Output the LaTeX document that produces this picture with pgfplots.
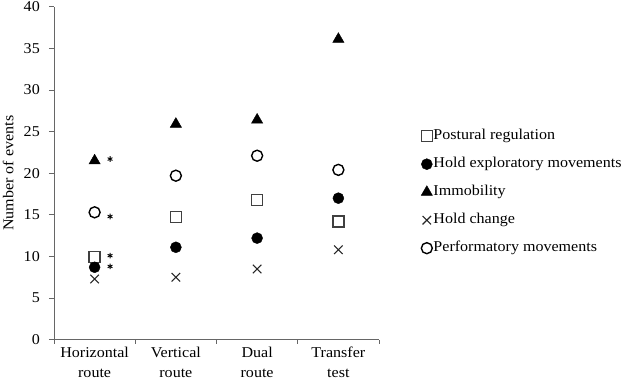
\documentclass[border=0pt]{standalone}
\usepackage{fontspec}
\setmainfont{Liberation Serif}[FakeStretch=1.07]
\usepackage{pgfplots}
\pgfplotsset{compat=1.18}
\begin{document}
\fontsize{15pt}{18pt}\selectfont
\begin{tikzpicture}
\begin{axis}[
  name=ax,
  scale only axis, width=325pt, height=333pt,
  xmin=-0.5, xmax=3.5, ymin=0, ymax=40,
  axis x line*=bottom, axis y line*=left,
  axis line style={draw=gray!80!black, line width=0.8pt},
  /pgf/number format/assume math mode=true,
  xtick={0,1,2,3},
  xticklabels={Horizontal\\route, Vertical\\route, Dual\\route, Transfer\\test},
  xticklabel style={align=center, font=\fontsize{15pt}{20pt}\selectfont, yshift=3pt},
  yticklabel style={xshift=-4pt},
  major x tick style={draw=none},
  minor xtick={-0.5,0.5,1.5,2.5,3.5},
  minor x tick style={draw=gray!80!black, line width=0.8pt},
  minor tick length=4pt,
  ytick={0,5,...,40},
  major y tick style={draw=gray!80!black, line width=0.8pt},
  major tick length=5pt,
  tick align=outside,
  ylabel={Number of events},
  legend style={draw=none, fill=none, at={(1.12,0.443)}, anchor=west,
    nodes={inner sep=1pt, text height=10pt, text depth=3pt, font=\fontsize{15pt}{18pt}\selectfont},
    row sep=13pt},
  legend cell align=left,
  legend image code/.code={\draw[#1] plot coordinates {(0pt,0pt)};},
]
\addplot[only marks, mark=square, mark size=5.5pt, mark options={draw=black!75, line width=1.3pt, fill=white}]
  coordinates {(0,9.9) (1,14.7) (2,16.8) (3,14.2)};
\addlegendentry{Postural regulation}
\addplot[only marks, mark=*, mark size=5.5pt, mark options={draw=black, fill=black}]
  coordinates {(0,8.7) (1,11.1) (2,12.2) (3,17.0)};
\addlegendentry{Hold exploratory movements}
\addplot[only marks, mark=triangle*, mark size=6.5pt, mark options={draw=black, fill=black}]
  coordinates {(0,21.5) (1,25.9) (2,26.4) (3,36.1)};
\addlegendentry{Immobility}
\addplot[only marks, mark=x, mark size=6pt, mark options={draw=black!85, line width=1.1pt}]
  coordinates {(0,7.3) (1,7.5) (2,8.5) (3,10.8)};
\addlegendentry{Hold change}
\addplot[only marks, mark=o, mark size=5.5pt, mark options={draw=black, line width=1.4pt, fill=white}]
  coordinates {(0,15.3) (1,19.7) (2,22.1) (3,20.4)};
\addlegendentry{Performatory movements}
\addplot[only marks, mark=asterisk, mark size=2.8pt, mark options={draw=black, line width=0.9pt}, forget plot]
  coordinates {(0.19,21.7) (0.19,14.8) (0.19,10.1) (0.19,8.8)};
\end{axis}
\pgfresetboundingbox
\path ([shift={(-54pt,-40pt)}]ax.south west) rectangle ([shift={(245pt,6.7pt)}]ax.north east);
\end{tikzpicture}
\end{document}
